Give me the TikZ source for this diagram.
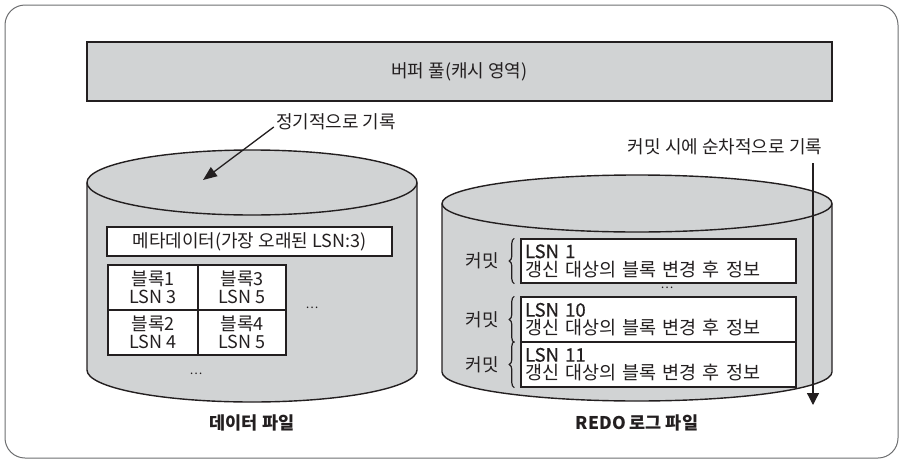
\documentclass[tikz,border=0pt]{standalone}
\usepackage{fontspec}
\setmainfont{Noto Sans CJK KR}
\newfontfamily\krmed[FakeBold=0.5]{Noto Sans CJK KR}
\usetikzlibrary{decorations.pathreplacing,arrows.meta}
\definecolor{cylgray}{HTML}{D1D3D4}
\definecolor{ink}{HTML}{231F20}
\definecolor{framegray}{HTML}{6D6E70}
\tikzset{
  txt/.style={font=\fontsize{18}{19}\selectfont, text=ink, inner sep=0pt},
  boldlbl/.style={font=\fontsize{17.5}{18}\selectfont\bfseries, text=ink, inner sep=0pt},
  cell/.style={draw=ink, line width=1.4pt, fill=white, minimum height=45pt, inner sep=0pt, align=center, font=\fontsize{18}{17.5}\selectfont, text=ink},
  logbox/.style={draw=ink, line width=1.4pt, fill=white, minimum width=275pt, minimum height=44pt, inner xsep=4pt, inner ysep=0pt, text width=267pt, align=left, font=\fontsize{18.5}{18}\selectfont, text=ink},
  cyl/.style={draw=ink, line width=1.4pt},
  dotsnode/.style={font=\fontsize{12}{12}\selectfont, text=ink, inner sep=0pt},
  arr/.style={draw=ink, line width=1.3pt},
  bracestyle/.style={draw=ink, line width=1.2pt, decorate, decoration={brace, amplitude=5pt}}
}
\begin{document}
\begin{tikzpicture}[x=1pt,y=-1pt]
\useasboundingbox (0,0) rectangle (903,461);
\draw[framegray, line width=1pt, rounded corners=20pt] (5,5) rectangle (898,458);

% buffer pool
\node[draw=ink, line width=1.4pt, fill=cylgray, minimum width=745pt, minimum height=59pt, inner sep=0pt, txt] (pool) at (459.5,71.5) {버퍼 풀(캐시 영역)};

% left cylinder
\fill[cylgray] (87,182.5) -- (87,370) arc[start angle=180, end angle=0, x radius=165, y radius=32] -- (417,182.5) arc[start angle=0, end angle=-180, x radius=165, y radius=32.5] -- cycle;
\draw[cyl] (87,182.5) -- (87,370) arc[start angle=180, end angle=0, x radius=165, y radius=32] -- (417,182.5);
\draw[cyl] (252,182.5) ellipse[x radius=165, y radius=32.5];

% right cylinder
\fill[cylgray] (442,203.5) -- (442,372) arc[start angle=180, end angle=0, x radius=195, y radius=29] -- (832,203.5) arc[start angle=0, end angle=-180, x radius=195, y radius=28.5] -- cycle;
\draw[cyl] (442,203.5) -- (442,372) arc[start angle=180, end angle=0, x radius=195, y radius=29] -- (832,203.5);
\draw[cyl] (637,203.5) ellipse[x radius=195, y radius=28.5];

% left content
\node[draw=ink, line width=1.4pt, fill=white, minimum width=285pt, minimum height=29pt, inner sep=0pt, txt] (meta) at (249.5,241.5) {메타데이터(가장 오래된 LSN:3)};
\node[cell, minimum width=90pt] (b1) at (153,287.5) {블록1\\LSN 3};
\node[cell, minimum width=88pt] (b3) at (242,287.5) {블록3\\LSN 5};
\node[cell, minimum width=90pt] (b2) at (153,332.5) {블록2\\LSN 4};
\node[cell, minimum width=88pt] (b4) at (242,332.5) {블록4\\LSN 5};
\node[dotsnode] (d1) at (312,308) {…};
\node[dotsnode] (d2) at (196,374) {…};

\node[txt] (periodic) at (336,122) {정기적으로 기록};
\coordinate (ptip) at (203,180);
\draw[arr, -{Triangle[length=14pt, width=11pt]}] (periodic.west) ++(-2,5) -- (ptip);

\node[boldlbl] (dflabel) at (252,423) {데이터 파일};

% right content
\node[logbox] (l1) at (658.5,261) {{\krmed LSN 1}\\갱신 대상의 블록 변경 후 정보};
\node[dotsnode] (d3) at (667,288) {…};
\node[logbox, minimum height=45pt] (l2) at (658.5,319.5) {{\krmed LSN 10}\\갱신 대상의 블록 변경 후 정보};
\node[logbox, minimum height=45pt] (l3) at (658.5,364.5) {{\krmed LSN 11}\\갱신 대상의 블록 변경 후 정보};

\draw[bracestyle] ([xshift=-6pt]l1.south west) -- ([xshift=-6pt]l1.north west);
\draw[bracestyle] ([xshift=-6pt]l2.south west) -- ([xshift=-6pt]l2.north west);
\draw[bracestyle] ([xshift=-6pt]l3.south west) -- ([xshift=-6pt]l3.north west);
\node[txt] (c1) at (482,261) {커밋};
\node[txt] (c2) at (482,319.5) {커밋};
\node[txt] (c3) at (482,364.5) {커밋};

\node[txt] (seq) at (725,147) {커밋 시에 순차적으로 기록};
\coordinate (sstart) at (813,163);
\coordinate (send) at (813,405);
\draw[arr, -{Triangle[length=12pt, width=12pt]}] (sstart) -- (send);

\node[boldlbl] (rlabel) at (637,423) {REDO 로그 파일};
\end{tikzpicture}
\end{document}
